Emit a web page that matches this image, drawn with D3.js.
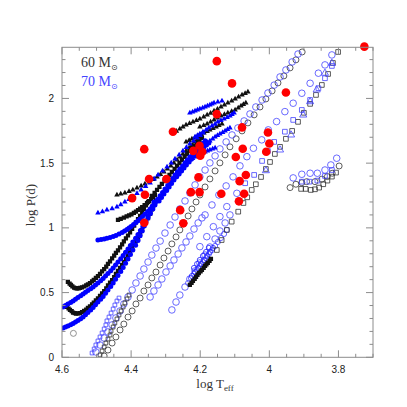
<!DOCTYPE html>
<html><head><meta charset="utf-8">
<script src="https://cdn.jsdelivr.net/npm/d3@7"></script>
<style>body{margin:0;background:#fff}</style></head>
<body><svg id="c" width="407" height="407"></svg>
<script>
// ---------------- DATA ----------------
const xTicks = [4.6, 4.4, 4.2, 4, 3.8];
const yTicks = [0, 0.5, 1, 1.5, 2];
const xDomain = [4.6, 3.7];
const yDomain = [0, 2.395];
const legendLabels = ["60 M", "70 M"];

// observed stars (red)
const observed = [[3.725,2.40],[4.152,2.288],[4.108,2.116],[3.952,2.046],[4.279,1.742],[4.152,1.879],[4.362,1.608],[4.079,1.776],[4.004,1.737],[4.0,1.652],[4.077,1.611],[4.009,1.588],[4.097,1.547],[4.202,1.634],[4.22,1.595],[4.194,1.588],[4.2,1.557],[4.348,1.377],[4.298,1.377],[4.205,1.39],[4.068,1.408],[4.086,1.361],[4.397,1.23],[4.36,1.256],[4.227,1.276],[4.202,1.276],[4.139,1.263],[4.073,1.263],[4.088,1.205],[4.258,1.137],[4.362,1.039],[4.249,1.035]];

// 60 Msun filled triangles
const m60TriA = [[4.441,1.254],[4.430,1.262],[4.418,1.270],[4.406,1.281],[4.395,1.293],[4.383,1.308],[4.371,1.324],[4.360,1.339],[4.348,1.355],[4.336,1.374],[4.325,1.393],[4.315,1.412],[4.305,1.432],[4.295,1.455],[4.285,1.478],[4.276,1.501],[4.267,1.525],[4.258,1.548],[4.250,1.571],[4.241,1.594],[4.232,1.617],[4.223,1.640],[4.215,1.664],[4.208,1.683],[4.201,1.702]];
const m60TriB = [[4.279,1.733],[4.269,1.748],[4.259,1.764],[4.250,1.779],[4.241,1.795],[4.231,1.806],[4.221,1.818],[4.211,1.830],[4.201,1.842],[4.190,1.857],[4.180,1.872],[4.170,1.887],[4.160,1.903],[4.150,1.918],[4.140,1.934],[4.130,1.949],[4.120,1.965],[4.109,1.980],[4.099,1.996],[4.089,2.011],[4.079,2.027],[4.070,2.038],[4.062,2.050]];
const m60TriC = [[4.201,1.780],[4.190,1.791],[4.180,1.803],[4.170,1.818],[4.160,1.834],[4.150,1.849],[4.140,1.865],[4.130,1.876],[4.120,1.888],[4.109,1.899],[4.099,1.911],[4.090,1.926],[4.082,1.942],[4.075,1.953],[4.068,1.965]];
const m60TriD = [[4.241,1.664],[4.232,1.676],[4.224,1.687],[4.215,1.698],[4.206,1.710],[4.197,1.722],[4.189,1.733],[4.180,1.745],[4.172,1.756],[4.163,1.768],[4.154,1.780],[4.146,1.791],[4.137,1.803]];
// 70 Msun filled triangles
const m70TriA = [[4.496,1.115],[4.483,1.126],[4.470,1.138],[4.455,1.149],[4.441,1.161],[4.430,1.180],[4.418,1.200],[4.406,1.219],[4.395,1.239],[4.383,1.266],[4.371,1.293],[4.358,1.320],[4.345,1.347],[4.333,1.378],[4.322,1.409],[4.309,1.440],[4.296,1.471],[4.284,1.501],[4.273,1.532],[4.261,1.563],[4.250,1.594],[4.240,1.621],[4.230,1.648],[4.219,1.671],[4.209,1.695],[4.200,1.714],[4.192,1.733]];
const m70TriB = [[4.230,1.888],[4.222,1.896],[4.215,1.903],[4.208,1.911],[4.201,1.919],[4.193,1.927],[4.186,1.934],[4.179,1.942],[4.172,1.950],[4.166,1.958],[4.160,1.965],[4.149,1.973],[4.137,1.980]];
const m70TriC = [[4.215,1.702],[4.208,1.714],[4.201,1.726],[4.192,1.741],[4.183,1.757],[4.175,1.772],[4.166,1.787],[4.157,1.802],[4.149,1.818],[4.140,1.830],[4.131,1.842],[4.122,1.853],[4.114,1.865],[4.108,1.877],[4.102,1.888]];
const m70TriD = [[4.201,1.625],[4.193,1.637],[4.186,1.648],[4.179,1.660],[4.172,1.672],[4.164,1.687],[4.157,1.702],[4.150,1.714],[4.143,1.726],[4.135,1.738],[4.128,1.749],[4.121,1.761],[4.114,1.772]];
const m70TriE = [[4.230,1.525],[4.222,1.537],[4.215,1.548],[4.208,1.556],[4.201,1.563],[4.193,1.575],[4.186,1.587],[4.179,1.595],[4.172,1.602],[4.164,1.610],[4.157,1.617]];

// 60 Msun filled dots
const m60DotA = [[4.583,0.582],[4.578,0.570],[4.574,0.559],[4.570,0.548],[4.565,0.539],[4.561,0.535],[4.557,0.532],[4.552,0.533],[4.548,0.536],[4.542,0.541],[4.536,0.547],[4.530,0.555],[4.525,0.563],[4.519,0.574],[4.513,0.586],[4.508,0.599],[4.502,0.613],[4.496,0.628],[4.490,0.644],[4.484,0.663],[4.478,0.682],[4.472,0.701],[4.467,0.721],[4.461,0.742],[4.455,0.764],[4.449,0.785],[4.444,0.806],[4.438,0.827],[4.432,0.849],[4.426,0.872],[4.421,0.895],[4.415,0.918],[4.409,0.941],[4.403,0.966],[4.397,0.992],[4.391,1.017],[4.386,1.042],[4.380,1.067],[4.374,1.092],[4.368,1.119],[4.363,1.146],[4.357,1.173],[4.351,1.200]];
const m60DotB = [[4.586,0.389],[4.581,0.377],[4.577,0.366],[4.572,0.356],[4.568,0.346],[4.563,0.341],[4.559,0.338],[4.553,0.339],[4.548,0.342],[4.542,0.349],[4.536,0.358],[4.530,0.369],[4.525,0.381],[4.519,0.394],[4.513,0.408],[4.508,0.423],[4.502,0.439],[4.496,0.456],[4.490,0.474],[4.484,0.493],[4.478,0.512],[4.472,0.533],[4.467,0.555],[4.461,0.576],[4.455,0.597],[4.449,0.620],[4.444,0.644],[4.438,0.667],[4.432,0.690],[4.426,0.713],[4.421,0.736],[4.415,0.761],[4.409,0.787],[4.403,0.814],[4.397,0.841],[4.391,0.868],[4.386,0.895],[4.380,0.924],[4.374,0.953],[4.368,0.984],[4.363,1.015],[4.357,1.045],[4.351,1.076],[4.345,1.109],[4.340,1.142],[4.334,1.175],[4.328,1.208]];
const m60DotC = [[4.438,1.061],[4.430,1.070],[4.421,1.080],[4.413,1.088],[4.406,1.096],[4.399,1.105],[4.392,1.115],[4.386,1.126],[4.380,1.138],[4.374,1.149],[4.368,1.161],[4.361,1.176],[4.354,1.192],[4.348,1.207],[4.342,1.223],[4.336,1.238],[4.331,1.254]];
const m60DotD = [[4.340,1.247],[4.332,1.270],[4.325,1.293],[4.318,1.316],[4.311,1.339],[4.303,1.362],[4.296,1.386],[4.289,1.409],[4.282,1.432],[4.274,1.455],[4.267,1.478],[4.260,1.501],[4.253,1.525],[4.245,1.548],[4.238,1.571],[4.231,1.594],[4.224,1.617],[4.216,1.636],[4.209,1.656],[4.202,1.675],[4.195,1.695]];
const m60DotE = [[4.230,0.559],[4.225,0.575],[4.221,0.590],[4.216,0.606],[4.212,0.621],[4.208,0.636],[4.204,0.651],[4.199,0.663],[4.195,0.675],[4.190,0.691],[4.186,0.706],[4.182,0.718],[4.178,0.729],[4.173,0.745],[4.169,0.760]];
// 70 Msun filled dots
const m70DotA = [[4.597,0.389],[4.590,0.400],[4.583,0.412],[4.575,0.423],[4.568,0.435],[4.561,0.448],[4.554,0.462],[4.546,0.475],[4.539,0.489],[4.532,0.502],[4.525,0.516],[4.517,0.529],[4.510,0.543],[4.503,0.558],[4.496,0.574],[4.488,0.591],[4.481,0.609],[4.474,0.628],[4.467,0.648],[4.459,0.669],[4.452,0.690],[4.445,0.713],[4.438,0.736],[4.430,0.761],[4.423,0.787],[4.416,0.812],[4.409,0.837],[4.402,0.864],[4.395,0.891],[4.387,0.920],[4.380,0.949],[4.373,0.980],[4.366,1.011],[4.358,1.043],[4.351,1.076],[4.344,1.111],[4.337,1.146],[4.331,1.177],[4.325,1.208]];
const m70DotB = [[4.597,0.226],[4.590,0.234],[4.583,0.242],[4.575,0.251],[4.568,0.261],[4.561,0.272],[4.554,0.284],[4.546,0.297],[4.539,0.311],[4.532,0.328],[4.525,0.346],[4.517,0.365],[4.510,0.385],[4.503,0.406],[4.496,0.427],[4.488,0.448],[4.481,0.470],[4.474,0.495],[4.467,0.520],[4.459,0.547],[4.452,0.574],[4.445,0.603],[4.438,0.632],[4.430,0.663],[4.423,0.694],[4.416,0.727],[4.409,0.760],[4.402,0.794],[4.395,0.829],[4.387,0.866],[4.380,0.903],[4.374,0.940],[4.368,0.976],[4.362,1.015],[4.357,1.053],[4.351,1.090],[4.345,1.127],[4.339,1.164],[4.334,1.200]];
const m70DotC = [[4.496,0.906],[4.487,0.910],[4.478,0.914],[4.470,0.920],[4.461,0.926],[4.452,0.933],[4.444,0.941],[4.435,0.952],[4.426,0.964],[4.419,0.976],[4.412,0.988],[4.406,0.999],[4.400,1.011],[4.393,1.026],[4.386,1.042],[4.380,1.055],[4.374,1.069],[4.367,1.088],[4.360,1.107],[4.352,1.126],[4.345,1.146],[4.338,1.169],[4.331,1.192]];
const m70DotD = [[4.331,1.192],[4.323,1.220],[4.316,1.247],[4.309,1.274],[4.302,1.301],[4.294,1.328],[4.287,1.355],[4.280,1.382],[4.273,1.409],[4.266,1.432],[4.259,1.455],[4.251,1.478],[4.244,1.502],[4.237,1.525],[4.230,1.548],[4.222,1.571],[4.215,1.594],[4.208,1.613],[4.201,1.633],[4.193,1.652],[4.186,1.672]];
const m70DotE = [[4.319,1.208],[4.312,1.235],[4.305,1.262],[4.297,1.289],[4.290,1.316],[4.283,1.343],[4.276,1.370],[4.268,1.394],[4.261,1.417],[4.254,1.440],[4.247,1.463],[4.240,1.486],[4.232,1.509],[4.225,1.532],[4.218,1.556],[4.211,1.575],[4.204,1.594],[4.196,1.610],[4.189,1.625],[4.182,1.641],[4.175,1.656]];

// 70 Msun open circles
const m70CircA = [[4.502,0.041],[4.490,0.095],[4.478,0.149],[4.467,0.196],[4.455,0.250],[4.444,0.304],[4.432,0.358],[4.421,0.412],[4.409,0.466],[4.397,0.520],[4.386,0.574],[4.374,0.628],[4.363,0.682],[4.351,0.736],[4.340,0.790],[4.328,0.844],[4.316,0.898],[4.302,0.960],[4.287,1.022],[4.273,1.084],[4.259,1.146],[4.244,1.208],[4.230,1.270],[4.215,1.332],[4.201,1.394],[4.186,1.447],[4.172,1.502],[4.157,1.556],[4.143,1.610],[4.125,1.664],[4.108,1.718],[4.091,1.772],[4.073,1.826],[4.056,1.880],[4.039,1.934],[4.021,1.988],[4.004,2.042],[3.986,2.103],[3.969,2.166],[3.952,2.220],[3.934,2.282],[3.917,2.343]];
const m70CircB = [[4.282,0.366],[4.270,0.427],[4.259,0.481],[4.244,0.543],[4.230,0.605],[4.215,0.667],[4.201,0.729],[4.186,0.790],[4.172,0.852],[4.157,0.914],[4.143,0.976],[4.128,1.038],[4.114,1.100]];
const m70CircC = [[4.186,1.100],[4.166,1.177],[4.146,1.254],[4.125,1.324],[4.105,1.394],[4.085,1.479],[4.065,1.550],[4.046,1.615],[4.022,1.680],[4.003,1.757],[3.979,1.821],[3.955,1.898],[3.931,1.963],[3.906,2.040],[3.882,2.117],[3.858,2.195],[3.839,2.259],[3.819,2.336]];
const m70CircD = [[4.235,0.574],[4.227,0.613],[4.218,0.644],[4.209,0.675],[4.201,0.706],[4.192,0.736],[4.183,0.767],[4.175,0.798],[4.166,0.829],[4.157,0.860],[4.149,0.891],[4.140,0.922],[4.131,0.953],[4.123,0.984]];
const m70CircE = [[4.345,0.466],[4.334,0.512],[4.322,0.559],[4.311,0.605],[4.299,0.659],[4.287,0.706],[4.276,0.752],[4.264,0.798],[4.253,0.845],[4.241,0.891],[4.230,0.937],[4.218,0.991],[4.206,1.038],[4.195,1.077]];
const m70CircF = [[4.224,0.628],[4.215,0.659],[4.206,0.690],[4.198,0.721],[4.189,0.752],[4.180,0.783],[4.172,0.814],[4.163,0.845],[4.218,0.690],[4.209,0.721],[4.201,0.752],[4.192,0.783],[4.183,0.814],[4.175,0.845]];
const m70CircG = [[4.201,0.855],[4.181,0.932],[4.162,1.009],[4.143,1.087],[4.123,1.164],[4.094,1.267]];
const m70CircHook = [[3.931,1.386],[3.906,1.414],[3.882,1.422],[3.861,1.422],[3.839,1.447],[3.822,1.486],[3.805,1.538]];
// 60 Msun open circles
const m60CircA = [[4.478,0.010],[4.467,0.056],[4.455,0.110],[4.444,0.157],[4.432,0.211],[4.421,0.257],[4.409,0.311],[4.397,0.358],[4.386,0.412],[4.374,0.458],[4.363,0.512],[4.351,0.559],[4.340,0.613],[4.328,0.659],[4.316,0.713],[4.305,0.767],[4.293,0.821],[4.282,0.876],[4.270,0.930],[4.259,0.984],[4.247,1.038],[4.235,1.092],[4.224,1.146],[4.212,1.200],[4.201,1.254],[4.186,1.316],[4.172,1.378],[4.157,1.440],[4.143,1.502],[4.128,1.564],[4.114,1.626],[4.096,1.688],[4.079,1.749],[4.062,1.811],[4.044,1.873],[4.027,1.934],[4.010,1.996],[3.992,2.058],[3.975,2.120],[3.958,2.174],[3.940,2.236],[3.923,2.298],[3.905,2.359]];
const m60CircHook = [[3.940,1.311],[3.923,1.337],[3.906,1.349],[3.892,1.357],[3.868,1.357],[3.848,1.376],[3.832,1.396],[3.818,1.422],[3.798,1.478]];
const m60CircLone = [[4.567,0.185]];
// open squares
const m60SqA = [[4.152,0.829],[4.138,0.906],[4.123,0.984],[4.109,1.048],[4.090,1.125],[4.075,1.192],[4.064,1.236],[4.051,1.293],[4.039,1.337],[4.024,1.393],[4.010,1.455],[3.998,1.509],[3.984,1.571],[3.969,1.626],[3.952,1.688],[3.934,1.749],[3.917,1.819],[3.900,1.889],[3.882,1.958],[3.865,2.027],[3.848,2.104],[3.830,2.189],[3.816,2.274],[3.801,2.359]];
const m60SqHook = [[3.908,1.301],[3.895,1.301],[3.880,1.293],[3.868,1.298],[3.856,1.311],[3.844,1.337],[3.832,1.365],[3.819,1.396],[3.807,1.427]];
const m60SqLow = [[4.490,0.018],[4.484,0.049],[4.478,0.080],[4.473,0.110],[4.467,0.141],[4.461,0.172],[4.458,0.203],[4.452,0.234],[4.447,0.265],[4.441,0.296],[4.435,0.327],[4.429,0.358],[4.423,0.389],[4.418,0.420],[4.412,0.451],[4.406,0.481]];
const m70SqA = [[4.070,1.345],[4.044,1.409],[4.021,1.517],[4.004,1.594],[3.986,1.664],[3.955,1.743],[3.931,1.834],[3.906,1.911],[3.882,1.988],[3.858,2.079],[3.839,2.156],[3.819,2.251]];
const m70SqHook = [[3.906,1.357],[3.884,1.357],[3.861,1.365],[3.839,1.401],[3.819,1.447]];
const m70SqLow = [[4.513,0.033],[4.507,0.064],[4.502,0.095],[4.496,0.126],[4.490,0.157],[4.484,0.188],[4.478,0.219],[4.473,0.250],[4.470,0.281],[4.464,0.311],[4.458,0.342],[4.452,0.373],[4.447,0.404],[4.441,0.435],[4.435,0.458]];
// open triangles
const m70OpenTri = [[4.010,1.442],[3.969,1.602],[3.937,1.718],[3.902,1.872],[3.882,1.975],[3.863,2.066],[3.839,2.195],[3.819,2.272]];

// ---------------- CHART ----------------
const pL = 62, pR = 373, pT = 47.3, pB = 357.3;
const svg = d3.select("#c");
const x = d3.scaleLinear().domain(xDomain).range([pL, pR]);
const y = d3.scaleLinear().domain(yDomain).range([pB, pT]);

const BLACK = "#111", BLUE = "#0000ff", OBLUE = "#4444ff", RED = "#ff0000", AX = "#8c8c8c";

const g = svg.append("g");
svg.append("clipPath").attr("id","clp").append("rect")
  .attr("x", pL).attr("y", pT - 6).attr("width", pR - pL + 6).attr("height", pB - pT + 6);

const plot = g.append("g").attr("clip-path", "url(#clp)");

function openCircles(data, color, r) {
  plot.append("g").selectAll("circle").data(data).join("circle")
    .attr("cx", d => x(d[0])).attr("cy", d => y(d[1])).attr("r", r)
    .attr("fill", "none").attr("stroke", color).attr("stroke-width", 0.8);
}
function openSymbols(data, color, type, size) {
  const sym = d3.symbol().type(type).size(size);
  plot.append("g").selectAll("path").data(data).join("path")
    .attr("transform", d => `translate(${x(d[0])},${y(d[1])})`)
    .attr("d", sym).attr("fill", "none").attr("stroke", color).attr("stroke-width", 0.8);
}
function filledSymbols(data, color, type, size) {
  const sym = d3.symbol().type(type).size(size);
  plot.append("g").selectAll("path").data(data).join("path")
    .attr("transform", d => `translate(${x(d[0])},${y(d[1])})`)
    .attr("d", sym).attr("fill", color);
}

// open markers
openCircles(m60CircA, "#333", 3);
openCircles(m60CircHook, "#333", 3);
openCircles(m60CircLone, "#777", 3);
openCircles(m70CircA, OBLUE, 3.3);
openCircles(m70CircB, OBLUE, 3.3);
openCircles(m70CircC, OBLUE, 3.3);
openCircles(m70CircD, OBLUE, 2.6);
openCircles(m70CircE, OBLUE, 3.3);
openCircles(m70CircF, "#2222ff", 2.6);
openCircles(m70CircG, OBLUE, 3.3);
openCircles(m70CircHook, OBLUE, 3.3);
openSymbols(m60SqA, "#333", d3.symbolSquare, 22);
openSymbols(m60SqHook, "#333", d3.symbolSquare, 22);
openSymbols(m60SqLow, "#333", d3.symbolSquare, 14);
openSymbols(m70SqA, OBLUE, d3.symbolSquare, 22);
openSymbols(m70SqHook, OBLUE, d3.symbolSquare, 22);
openSymbols(m70SqLow, OBLUE, d3.symbolSquare, 14);
openSymbols(m70OpenTri, OBLUE, d3.symbolTriangle, 22);

// filled tracks
[m60DotA, m60DotB, m60DotC, m60DotD, m60DotE].forEach(d => filledSymbols(d, BLACK, d3.symbolSquare, 18));
[m70DotA, m70DotB, m70DotC, m70DotD, m70DotE].forEach(d => filledSymbols(d, BLUE, d3.symbolCircle, 20));
[m60TriA, m60TriB, m60TriC, m60TriD].forEach(d => filledSymbols(d, BLACK, d3.symbolTriangle, 13));
[m70TriA, m70TriB, m70TriC, m70TriD, m70TriE].forEach(d => filledSymbols(d, BLUE, d3.symbolTriangle, 13));

// observed
plot.append("g").selectAll("circle").data(observed).join("circle")
  .attr("cx", d => x(d[0])).attr("cy", d => y(d[1])).attr("r", 4.3).attr("fill", RED);

// ---------------- AXES ----------------
const fr = g.append("g");
fr.append("rect").attr("x", pL).attr("y", pT).attr("width", pR - pL).attr("height", pB - pT)
  .attr("fill", "none").attr("stroke", AX).attr("stroke-width", 1);

const xMinor = d3.range(0, 19).map(i => +(4.6 - i * 0.05).toFixed(2)).filter(v => v >= 3.7);
const yMinor = d3.range(0, 24).map(i => +(i * 0.1).toFixed(1)).filter(v => v <= 2.39);
const isMajorX = v => xTicks.some(t => Math.abs(t - v) < 1e-6);
const isMajorY = v => yTicks.some(t => Math.abs(t - v) < 1e-6);

xMinor.forEach(v => {
  const L = isMajorX(v) ? 7 : 3.5;
  fr.append("line").attr("x1", x(v)).attr("x2", x(v)).attr("y1", pB).attr("y2", pB - L).attr("stroke", AX);
  fr.append("line").attr("x1", x(v)).attr("x2", x(v)).attr("y1", pT).attr("y2", pT + L).attr("stroke", AX);
});
yMinor.forEach(v => {
  const L = isMajorY(v) ? 7 : 3.5;
  fr.append("line").attr("y1", y(v)).attr("y2", y(v)).attr("x1", pL).attr("x2", pL + L).attr("stroke", AX);
  fr.append("line").attr("y1", y(v)).attr("y2", y(v)).attr("x1", pR).attr("x2", pR - L).attr("stroke", AX);
});

const lblFont = "'Liberation Sans', Arial, sans-serif";
fr.selectAll("text.xl").data(xTicks).join("text").attr("class","xl")
  .attr("x", d => x(d)).attr("y", pB + 16).attr("text-anchor", "middle")
  .attr("font-family", lblFont).attr("font-size", 10).attr("fill", "#222").text(d => d3.format("")(d));
fr.selectAll("text.yl").data(yTicks).join("text").attr("class","yl")
  .attr("x", pL - 8).attr("y", d => y(d) + 3.5).attr("text-anchor", "end")
  .attr("font-family", lblFont).attr("font-size", 10).attr("fill", "#222").text(d => d3.format("")(d));

const serif = "'Liberation Serif', 'DejaVu Serif', serif";
const xt = fr.append("text").attr("x", 215).attr("y", 388).attr("text-anchor", "middle")
  .attr("font-family", serif).attr("font-size", 13).attr("fill", "#333");
xt.append("tspan").text("log  T");
xt.append("tspan").attr("font-size", 9).attr("dy", 3).text("eff");

fr.append("text").attr("transform", "translate(35,205) rotate(-90)").attr("text-anchor", "middle")
  .attr("font-family", serif).attr("font-size", 13).attr("fill", "#333").text("log  P(d)");

// legend
const legColors = ["#333", "#4444ff"];
legendLabels.forEach((t, i) => {
  const tx = fr.append("text").attr("x", 81).attr("y", 67 + i * 19)
    .attr("font-family", serif).attr("font-size", 14).attr("fill", legColors[i]);
  tx.append("tspan").text(t);
  tx.append("tspan").attr("font-size", 8).attr("dy", 3).attr("font-family", "'DejaVu Sans', sans-serif").text("\u2299");
});
</script></body></html>
